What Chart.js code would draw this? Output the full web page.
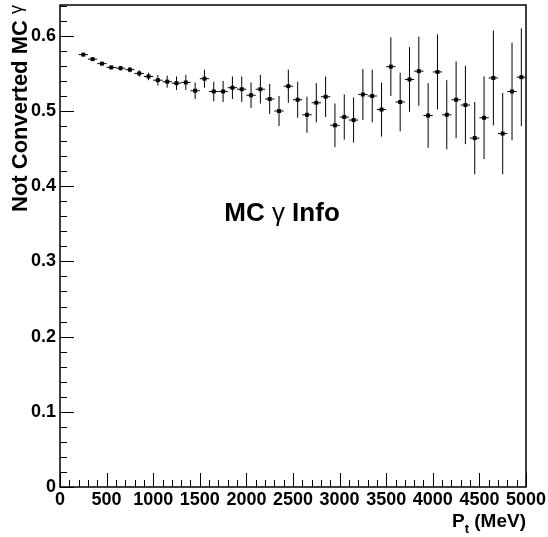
<!DOCTYPE html>
<html>
<head>
<meta charset="utf-8">
<script src="https://cdn.jsdelivr.net/npm/chart.js@4/dist/chart.umd.min.js"></script>
<style>
    html, body { margin: 0; padding: 0; background: #ffffff; }
    #wrap { width: 548px; height: 537px; }
</style>
</head>
<body>
<div id="wrap"><canvas id="eff-chart"></canvas></div>
<script>
// bin centres (MeV), fraction of MC photons not converted, and its error
const ptCenters = [250, 350, 450, 550, 650, 750, 850, 950, 1050, 1150, 1250, 1350, 1450, 1550, 1650, 1750,
    1850, 1950, 2050, 2150, 2250, 2350, 2450, 2550, 2650, 2750, 2850, 2950, 3050, 3150, 3250, 3350,
    3450, 3550, 3650, 3750, 3850, 3950, 4050, 4150, 4250, 4350, 4450, 4550, 4650, 4750, 4850, 4950];
const notConverted = [0.575, 0.569, 0.563, 0.558, 0.557, 0.555, 0.550, 0.546, 0.541, 0.539, 0.537, 0.538,
    0.527, 0.543, 0.526, 0.526, 0.531, 0.529, 0.521, 0.529, 0.516, 0.500, 0.533, 0.515,
    0.495, 0.511, 0.519, 0.481, 0.492, 0.488, 0.522, 0.520, 0.502, 0.559, 0.512, 0.542,
    0.553, 0.494, 0.552, 0.495, 0.515, 0.508, 0.464, 0.491, 0.544, 0.470, 0.526, 0.545];
const notConvertedErr = [0.0015, 0.002, 0.002, 0.0025, 0.003, 0.0035, 0.0044, 0.005, 0.007, 0.008, 0.009, 0.010,
    0.011, 0.012, 0.013, 0.014, 0.015, 0.017, 0.017, 0.019, 0.020, 0.020, 0.022, 0.024,
    0.024, 0.026, 0.027, 0.029, 0.030, 0.030, 0.034, 0.035, 0.036, 0.039, 0.039, 0.043,
    0.046, 0.043, 0.050, 0.046, 0.051, 0.052, 0.048, 0.055, 0.063, 0.054, 0.065, 0.065];
const binHalfWidth = 50;
const xTicks = [0, 500, 1000, 1500, 2000, 2500, 3000, 3500, 4000, 4500, 5000];
const xMinorStep = 100;
const yTicks = [0, 0.1, 0.2, 0.3, 0.4, 0.5, 0.6];
const yMinorStep = 0.02;
const yMax = 0.641;

(function () {
    "use strict";

    const fam = '"Liberation Sans", Arial, sans-serif';

    /**
     * Draws vertical and horizontal error bars under every point
     */
    const errorBars = {
        id: 'errorBars',
        beforeDatasetsDraw(chart) {
            let ctx = chart.ctx;
            let xs = chart.scales.x, ys = chart.scales.y;
            ctx.save();
            ctx.strokeStyle = '#000000';
            ctx.lineWidth = 1;
            ptCenters.forEach((pt, i) => {
                let px = xs.getPixelForValue(pt);
                let py = ys.getPixelForValue(notConverted[i]);
                ctx.beginPath();
                ctx.moveTo(px, ys.getPixelForValue(notConverted[i] - notConvertedErr[i]));
                ctx.lineTo(px, ys.getPixelForValue(notConverted[i] + notConvertedErr[i]));
                ctx.moveTo(xs.getPixelForValue(pt - binHalfWidth), py);
                ctx.lineTo(xs.getPixelForValue(pt + binHalfWidth), py);
                ctx.stroke();
            });
            ctx.restore();
        }
    };

    /**
     * ROOT style frame: ticks pointing inwards, axis titles, text label
     */
    const rootFrame = {
        id: 'rootFrame',
        afterDraw(chart) {
            let ctx = chart.ctx;
            let area = chart.chartArea;
            let xs = chart.scales.x, ys = chart.scales.y;
            ctx.save();
            ctx.strokeStyle = '#000000';
            ctx.lineWidth = 1;

            //x ticks
            ctx.beginPath();
            for (let v = 0; v <= 5000; v += xMinorStep) {
                let px = Math.round(xs.getPixelForValue(v)) + 0.5;
                let len = xTicks.includes(v) ? 14 : 7;
                ctx.moveTo(px, area.bottom);
                ctx.lineTo(px, area.bottom - len);
            }
            //y ticks
            for (let k = 0; k * yMinorStep <= yMax; k++) {
                let py = Math.round(ys.getPixelForValue(k * yMinorStep)) + 0.5;
                let len = (k % 5 === 0) ? 14 : 7;
                ctx.moveTo(area.left, py);
                ctx.lineTo(area.left + len, py);
            }
            ctx.stroke();

            ctx.lineWidth = 1.5;
            ctx.strokeRect(area.left, area.top, area.right - area.left, area.bottom - area.top);

            ctx.fillStyle = '#000000';
            ctx.textBaseline = 'alphabetic';
            ctx.textAlign = 'left';

            //label in the middle of the pad
            let bigBold = 'bold 26px ' + fam;
            ctx.font = bigBold;
            let wa = ctx.measureText('MC ').width;
            let wc = ctx.measureText(' Info').width;
            ctx.font = '26px ' + fam;
            let wb = ctx.measureText('γ').width;
            let lx = 282 - (wa + wb + wc) / 2, ly = 221;
            ctx.font = bigBold;
            ctx.fillText('MC ', lx, ly);
            ctx.font = '26px ' + fam;
            ctx.fillText('γ', lx + wa, ly);
            ctx.font = bigBold;
            ctx.fillText(' Info', lx + wa + wb, ly);

            //x title with subscript, right aligned on frame edge
            let titleFont = 'bold 19px ' + fam;
            let subFont = 'bold 13px ' + fam;
            ctx.font = titleFont;
            let w1 = ctx.measureText('P').width;
            let w3 = ctx.measureText(' (MeV)').width;
            ctx.font = subFont;
            let w2 = ctx.measureText('t').width;
            let tx = area.right - (w1 + w2 + w3);
            ctx.font = titleFont;
            ctx.fillText('P', tx, 527);
            ctx.font = subFont;
            ctx.fillText('t', tx + w1, 533);
            ctx.font = titleFont;
            ctx.fillText(' (MeV)', tx + w1 + w2, 527);

            //y title, rotated and aligned to the top of the frame
            ctx.translate(27, area.top);
            ctx.rotate(-Math.PI / 2);
            ctx.textAlign = 'right';
            ctx.font = '18px ' + fam;
            let gw = ctx.measureText('γ').width;
            ctx.fillText('γ', 0, -5);
            ctx.font = 'bold 22px ' + fam;
            ctx.fillText('Not Converted MC ', -gw, 0);
            ctx.restore();
        }
    };

    window.addEventListener("load", init);

    /**
     * Builds the chart
     */
    function init() {
        let points = ptCenters.map((pt, i) => ({ x: pt, y: notConverted[i] }));
        let tickFont = { family: fam, size: 18, weight: 'bold' };

        new Chart(document.getElementById("eff-chart"), {
            type: 'scatter',
            data: {
                datasets: [{
                    label: 'Not Converted MC γ',
                    data: points,
                    pointStyle: 'rect',
                    pointRadius: 2.8,
                    borderWidth: 0,
                    backgroundColor: '#000000',
                    borderColor: '#000000'
                }]
            },
            options: {
                animation: false,
                responsive: true,
                maintainAspectRatio: false,
                layout: { padding: { top: 5, right: 22, left: 0, bottom: 0 } },
                plugins: {
                    legend: { display: false },
                    tooltip: { enabled: false }
                },
                scales: {
                    x: {
                        type: 'linear',
                        min: 0,
                        max: 5000,
                        afterBuildTicks: s => { s.ticks = xTicks.map(v => ({ value: v })); },
                        afterFit: s => { s.height = 50; s.paddingLeft = 0; s.paddingRight = 0; },
                        grid: { display: false, drawTicks: false },
                        border: { display: false },
                        ticks: {
                            color: '#000000',
                            font: tickFont,
                            padding: 2,
                            maxRotation: 0,
                            autoSkip: false,
                            callback: v => String(v)
                        }
                    },
                    y: {
                        type: 'linear',
                        min: 0,
                        max: yMax,
                        afterBuildTicks: s => { s.ticks = yTicks.map(v => ({ value: v })); },
                        afterFit: s => { s.width = 60; s.paddingTop = 0; s.paddingBottom = 0; },
                        grid: { display: false, drawTicks: false },
                        border: { display: false },
                        ticks: {
                            color: '#000000',
                            font: tickFont,
                            padding: 4,
                            autoSkip: false,
                            callback: v => String(Math.round(v * 10) / 10)
                        }
                    }
                }
            },
            plugins: [errorBars, rootFrame]
        });
    }
})();
</script>
</body>
</html>
